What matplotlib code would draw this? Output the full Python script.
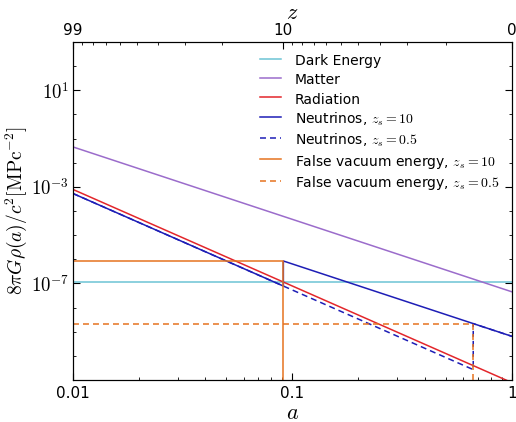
import matplotlib
matplotlib.use("Agg")
import matplotlib.pyplot as plt
import numpy as np

# ---------------------------------------------------------------------------
# Values (power laws -> straight lines in log-log,
# so each segment is given by its end points)
# ---------------------------------------------------------------------------
a_span = [0.01, 1.0]
dark_energy = [1.14e-7, 1.14e-7]
matter = [4.5e-2, 4.5e-8]
radiation = [7.8e-4, 7.8e-12]

# neutrinos: radiation-like until a_s, then jump and matter-like
a_nu10 = [0.01, 1 / 11, 1 / 11, 1.0]
nu10 = [5.3e-4, 7.8e-8, 8.5e-7, 6.45e-10]
a_nu05 = [0.01, 1 / 1.5, 1 / 1.5, 1.0]
nu05 = [5.3e-4, 2.7e-11, 2.16e-9, 6.45e-10]

# false vacuum energy: constant until a_s, then gone
a_fv10 = [0.01, 1 / 11, 1 / 11]
fv10 = [8.5e-7, 8.5e-7, 1e-30]
a_fv05 = [0.01, 1 / 1.5, 1 / 1.5]
fv05 = [2.16e-9, 2.16e-9, 1e-30]

labels = [
    "Dark Energy",
    "Matter",
    "Radiation",
    r"Neutrinos, $z_s=10$",
    r"Neutrinos, $z_s=0.5$",
    r"False vacuum energy, $z_s=10$",
    r"False vacuum energy, $z_s=0.5$",
]

z_major = [99, 10, 0]
z_minor = [90, 80, 70, 60, 50, 40, 30, 20, 9, 8, 7, 6, 5, 4, 3, 2, 1]

c_de = "#6cc4d4"
c_matter = "#9b6ccb"
c_rad = "#e3262b"
c_nu = "#1e1eb6"
c_fv = "#e6731f"

plt.rcParams["mathtext.fontset"] = "cm"
plt.rcParams["font.family"] = ["DejaVu Sans"]
plt.rcParams["lines.scale_dashes"] = False

fig = plt.figure(figsize=(5.16, 4.22), dpi=100)
ax = fig.add_axes([0.1415, 0.0995, 0.8505, 0.801])

lw = 1.1
dash = (0, (4.3, 2.9))
ax.plot(a_span, dark_energy, color=c_de, lw=lw, label=labels[0])
ax.plot(a_span, matter, color=c_matter, lw=lw, label=labels[1])
ax.plot(a_span, radiation, color=c_rad, lw=lw, label=labels[2])
ax.plot(a_nu10, nu10, color=c_nu, lw=lw, label=labels[3])
ax.plot(a_nu05, nu05, color=c_nu, lw=lw, ls=dash, label=labels[4])
ax.plot(a_fv10, fv10, color=c_fv, lw=lw, label=labels[5])
ax.plot(a_fv05, fv05, color=c_fv, lw=lw, ls=dash, label=labels[6])

ax.set_xscale("log")
ax.set_yscale("log")
ax.set_xlim(0.01, 1)
ax.set_ylim(1e-11, 1e3)

ax.set_xticks([0.01, 0.1, 1], ["0.01", "0.1", "1"])
ax.set_yticks([1e-7, 1e-3, 1e1], [r"$10^{-7}$", r"$10^{-3}$", r"$10^{1}$"])
ax.set_yticks(10.0 ** np.arange(-11, 4), minor=True)
ax.yaxis.set_minor_formatter(matplotlib.ticker.NullFormatter())
ax.tick_params(axis="x", which="both", direction="in", top=False,
               labelsize=11, pad=4)
ax.tick_params(axis="y", which="both", direction="in", right=True,
               labelsize=13.5, pad=3)
ax.tick_params(which="major", length=5, width=0.8)
ax.tick_params(which="minor", length=2.5, width=0.6)

ax.set_xlabel(r"$a$", fontsize=16, labelpad=1.5)
ax.set_ylabel(r"$8\pi G\rho(a)/c^2 [\mathrm{MPc}^{-2}]$", fontsize=14)
ax.yaxis.set_label_coords(-0.1, 0.5)

# top axis in redshift
ax2 = ax.twiny()
ax2.set_xscale("log")
ax2.set_xlim(ax.get_xlim())
ax2.set_xticks([1 / (1 + z) for z in z_major], [str(z) for z in z_major])
ax2.set_xticks([1 / (1 + z) for z in z_minor], minor=True)
ax2.xaxis.set_minor_formatter(matplotlib.ticker.NullFormatter())
ax2.tick_params(which="both", direction="in", labelsize=11, pad=3)
ax2.tick_params(which="major", length=5, width=0.8)
ax2.tick_params(which="minor", length=2.5, width=0.6)
ax2.set_xlabel(r"$z$", fontsize=16)
ax2.xaxis.set_label_coords(0.5, 1.068)

# tall handle boxes keep plain and math rows equally spaced
ax.legend(loc="upper left", bbox_to_anchor=(0.426, 0.969), frameon=False,
          fontsize=10, handlelength=1.5, handletextpad=1.0,
          handleheight=1.35, borderpad=0, borderaxespad=0,
          labelspacing=0.27)

fig.savefig("out.png", dpi=100)
